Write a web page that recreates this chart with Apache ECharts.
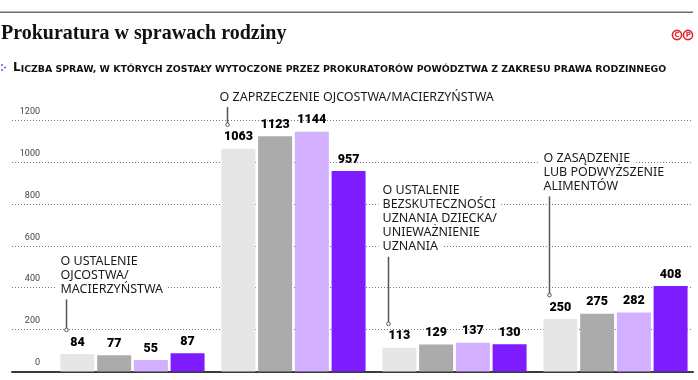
<!DOCTYPE html>
<html>
<head>
<meta charset="utf-8">
<script src="https://cdn.jsdelivr.net/npm/echarts@6/dist/echarts.min.js"></script>
<style>
  html, body { margin: 0; padding: 0; background: #fff; }
  #chart { width: 698px; height: 380px; }
</style>
</head>
<body>
<div id="chart"></div>
<script>
// categories (cases) and four yearly series
const categories = [
    'O ustalenie ojcostwa/macierzyństwa',
    'O zaprzeczenie ojcostwa/macierzyństwa',
    'O ustalenie bezskuteczności uznania dziecka/unieważnienie uznania',
    'O zasądzenie lub podwyższenie alimentów'
];
const seriesNames = ['2015', '2016', '2017', '2018'];
const values1 = [84, 1063, 113, 250];
const values2 = [77, 1123, 129, 275];
const values3 = [55, 1144, 137, 282];
const values4 = [87, 957, 130, 408];
const yTicks = [0, 200, 400, 600, 800, 1000, 1200];

const annotationTexts = [
    ['O USTALENIE', 'OJCOSTWA/', 'MACIERZYŃSTWA'],
    ['O ZAPRZECZENIE OJCOSTWA/MACIERZYŃSTWA'],
    ['O USTALENIE', 'BEZSKUTECZNOŚCI', 'UZNANIA DZIECKA/', 'UNIEWAŻNIENIE', 'UZNANIA'],
    ['O ZASĄDZENIE', 'LUB PODWYŻSZENIE', 'ALIMENTÓW']
];
// pixel y of the first text line centre (layout only)
const annotationTop = [261, 97, 190, 158];

const colors = ['#e6e6e6', '#ababab', '#d3b0ff', '#7d1cff'];

const chartDom = document.getElementById('chart');
const myChart = echarts.init(chartDom);

const FONT = 'Roboto, "Noto Sans", sans-serif';
const allValues = [values1, values2, values3, values4];

myChart.setOption({
    animation: false,
    grid: [
        { left: 12, right: 5, top: 120, bottom: 8.5 },
        { left: 52, right: 2, top: 120, bottom: 8.5 }
    ],
    xAxis: [
        {
            gridIndex: 0, type: 'value', min: 0, max: 1,
            axisLine: { show: true, lineStyle: { color: '#3a3a3a', width: 2 } },
            axisTick: { show: false }, axisLabel: { show: false }, splitLine: { show: false }
        },
        {
            gridIndex: 1, type: 'category', data: categories,
            axisLine: { show: false }, axisTick: { show: false }, axisLabel: { show: false }
        }
    ],
    yAxis: [
        {
            gridIndex: 0, type: 'value', min: 0, max: yTicks[yTicks.length - 1], interval: 200,
            axisLine: { show: false }, axisTick: { show: false },
            axisLabel: {
                inside: true, margin: 28, align: 'right', verticalAlign: 'bottom',
                padding: [0, 0, 4, 0],
                formatter: v => String(v),
                color: '#444', fontSize: 9, fontFamily: FONT
            },
            splitLine: { lineStyle: { type: [1, 2], color: '#777', width: 1 } }
        },
        {
            gridIndex: 1, type: 'value', min: 0, max: yTicks[yTicks.length - 1],
            show: false, splitLine: { show: false }
        }
    ],
    series: allValues.map((vals, i) => ({
        name: seriesNames[i],
        type: 'bar',
        xAxisIndex: 1,
        yAxisIndex: 1,
        data: vals,
        barWidth: 34,
        barGap: '8%',
        itemStyle: { color: colors[i] },
        label: {
            show: true, position: 'top', distance: 5,
            color: '#000', fontSize: 12.5, fontWeight: 900, fontFamily: FONT
        }
    }))
});

// header + annotations
const graphics = [
    { type: 'rect', shape: { x: 0, y: 11.5, width: 693, height: 1.5 }, style: { fill: '#6b6b6b' } },
    {
        type: 'text', x: 1, y: 34,
        style: {
            text: 'Prokuratura w sprawach rodziny', fill: '#111',
            font: 'bold 20px "Liberation Serif", "DejaVu Serif", serif', verticalAlign: 'middle'
        }
    },
    { type: 'circle', shape: { cx: 677, cy: 35, r: 4.6 }, style: { fill: 'none', stroke: '#e0262b', lineWidth: 1.6 } },
    { type: 'circle', shape: { cx: 688, cy: 35, r: 4.6 }, style: { fill: 'none', stroke: '#e0262b', lineWidth: 1.6 } },
    { type: 'text', x: 677, y: 35.5, style: { text: 'C', fill: '#e0262b', font: 'bold 7px "DejaVu Sans", sans-serif', align: 'center', verticalAlign: 'middle' } },
    { type: 'text', x: 688.3, y: 35.5, style: { text: 'P', fill: '#e0262b', font: 'bold 7px "DejaVu Sans", sans-serif', align: 'center', verticalAlign: 'middle' } },
    { type: 'circle', shape: { cx: 2, cy: 65, r: 1 }, style: { fill: '#8a3cff' } },
    { type: 'circle', shape: { cx: 5, cy: 67.5, r: 1 }, style: { fill: '#8a3cff' } },
    { type: 'circle', shape: { cx: 2, cy: 70, r: 1 }, style: { fill: '#8a3cff' } },
    {
        type: 'text', x: 13, y: 68,
        style: {
            text: '{a|L}{b|ICZBA SPRAW, W KTÓRYCH ZOSTAŁY WYTOCZONE PRZEZ PROKURATORÓW POWÓDZTWA Z ZAKRESU PRAWA RODZINNEGO}',
            verticalAlign: 'middle',
            rich: {
                a: { fontSize: 12, fontWeight: 'bold', fontFamily: '"DejaVu Sans", sans-serif', fill: '#111', verticalAlign: 'bottom' },
                b: { fontSize: 9.4, fontWeight: 'bold', fontFamily: '"DejaVu Sans", sans-serif', fill: '#111', verticalAlign: 'bottom' }
            }
        }
    }
];

const LINE_H = 14.2;
annotationTexts.forEach((lines, i) => {
    const center = myChart.convertToPixel({ gridIndex: 1 }, [i, values1[i]]);
    const barLeft = center[0] - 72;
    const dotY = center[1] - 24;
    const lineX = barLeft + 6;
    lines.forEach((t, k) => {
        graphics.push({
            type: 'text', x: barLeft - 4 - (i === 1 ? 2 : 0), y: annotationTop[i] + k * LINE_H, z: 10,
            style: {
                text: t, fill: '#1a1a1a', font: '12.5px "Noto Sans", sans-serif',
                verticalAlign: 'middle', backgroundColor: '#fff', padding: [0, 4, 0, 4]
            }
        });
    });
    const textBottom = annotationTop[i] + (lines.length - 1) * LINE_H + 8;
    graphics.push({
        type: 'line', z: 10,
        shape: { x1: lineX, y1: textBottom + 2, x2: lineX, y2: dotY },
        style: { stroke: '#555', lineWidth: 1.5 }
    });
    graphics.push({
        type: 'circle', z: 11,
        shape: { cx: lineX, cy: dotY, r: 1.8 },
        style: { fill: '#fff', stroke: '#555', lineWidth: 1 }
    });
});

myChart.setOption({ graphic: graphics });

window.addEventListener('resize', () => myChart.resize());
</script>
</body>
</html>
